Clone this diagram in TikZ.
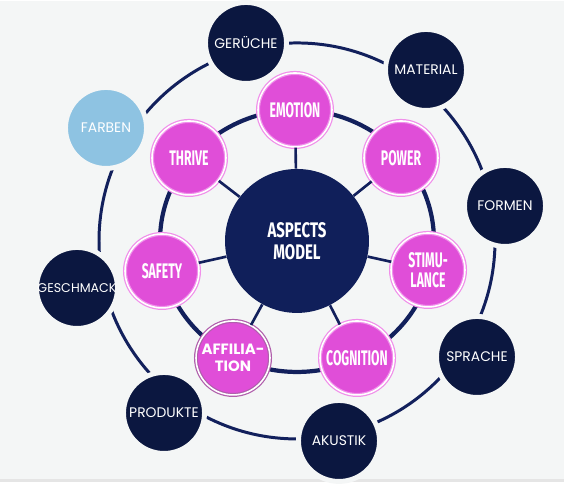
\documentclass[tikz,border=0pt]{standalone}
\usepackage{fontspec}
\setmainfont{Poppins}
\newfontfamily\condfont[FakeStretch=0.58]{Fira Sans}
\newfontfamily\corefont[FakeStretch=0.71]{Fira Sans}
\definecolor{bgc}{HTML}{F4F6F6}
\definecolor{darkc}{HTML}{0B1740}
\definecolor{corec}{HTML}{101F5A}
\definecolor{linec}{HTML}{12205C}
\definecolor{pinkc}{HTML}{E04ED8}
\definecolor{pinkedge}{HTML}{F090EA}
\definecolor{farbenc}{HTML}{8EC3E2}
\begin{document}
\begin{tikzpicture}[x=0.02cm,y=-0.02cm,
    ring/.style={draw=linec,line width=1.7pt},
    spoke/.style={draw=linec,line width=1.5pt},
    outer/.style={circle,fill=darkc,draw=bgc,line width=2.8pt,minimum size=1.62cm,inner sep=0pt,
      text=white,font=\fontsize{7.9}{9}\selectfont},
    aspect/.style={circle,fill=pinkc,draw=pinkedge,double=white,double distance=0.9pt,line width=0.7pt,
      minimum size=1.48cm,inner sep=0pt,text=white,align=center,
      font=\condfont\bfseries\fontsize{12}{11.2}\selectfont}]
    % background
    \fill[bgc] (0,0) rectangle (564,481);
    \fill[black!10] (0,478) rectangle (564,481);
    % centre
    \node[circle,fill=corec,minimum size=2.88cm,inner sep=0pt,text=white,align=center,
      font=\corefont\bfseries\fontsize{12}{12.5}\selectfont] (core) at (297,240) {ASPECTS\\MODEL};
    % rings
    \draw[ring] (core.center) circle[radius=198];
    \draw[ring,line width=2.4pt] (core.center) ellipse[x radius=137,y radius=131];
    % inner ring
    \node[aspect] (emotion) at (295,109) {EMOTION};
    \node[aspect] (power) at (401,157) {POWER};
    \node[aspect] (stimulance) at (428,269) {STIMU-\\LANCE};
    \node[aspect] (cognition) at (357,357) {COGNITION};
    \node[aspect,draw=pinkc!70!black!80,font=\bfseries\fontsize{8.5}{10}\selectfont] (affiliation) at (233,357) {AFFILIA-\\TION};
    \node[aspect] (safety) at (162,270) {SAFETY};
    \node[aspect] (thrive) at (189,157) {THRIVE};
    % outer ring
    \node[outer] (gerueche) at (246,42) {GERÜCHE};
    \node[outer] (material) at (426,69) {MATERIAL};
    \node[outer] (formen) at (505,205) {FORMEN};
    \node[outer] (sprache) at (477,356) {SPRACHE};
    \node[outer] (akustik) at (339,440) {AKUSTIK};
    \node[outer] (produkte) at (164,412) {PRODUKTE};
    \node[outer,font=\fontsize{7.2}{9}\selectfont] (geschmack) at (77,287) {GESCHMACK};
    \node[outer,fill=farbenc] (farben) at (106,127) {FARBEN};
    % spokes
    \foreach \n in {emotion,power,stimulance,cognition,affiliation,safety,thrive}
        \draw[spoke] (core) -- (\n);
\end{tikzpicture}
\end{document}
